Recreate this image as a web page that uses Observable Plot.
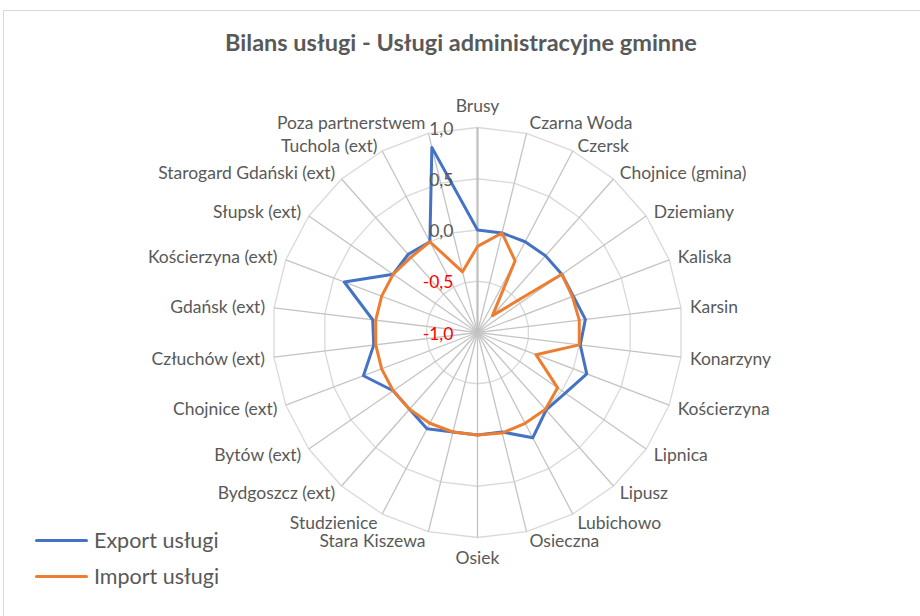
<!DOCTYPE html>
<html>
<head>
<meta charset="utf-8">
<script src="https://cdn.jsdelivr.net/npm/d3@7"></script>
<script src="https://cdn.jsdelivr.net/npm/@observablehq/plot@0.6"></script>
<style>
  html, body { margin: 0; padding: 0; background: #fff; overflow: hidden; }
  #wrap { position: relative; width: 920px; height: 616px; overflow: hidden; font-family: Lato, "Open Sans", sans-serif; color: #595959; }
  #frame { position: absolute; left: 3px; top: 10px; width: 1000px; height: 1000px; border: 1px solid #d9d9d9; box-sizing: border-box; }
  #chart { position: absolute; left: 0; top: 0; }
  #title { position: absolute; left: 0; top: 31px; width: 922px; text-align: center; font-weight: bold; font-size: 23.5px; line-height: 23.5px; white-space: nowrap; }
  .leg { position: absolute; left: 35px; display: flex; align-items: center; font-size: 21.5px; line-height: 24px; white-space: nowrap; }
  .leg .sw { width: 53px; height: 3px; border-radius: 1.5px; margin-right: 6px; }
</style>
</head>
<body>
<div id="wrap">
  <div id="frame"></div>
  <div id="chart"></div>
  <div id="title"></div>
  <div id="legend"></div>
</div>
<script>
// ---- data ----
const categories = [
  "Brusy", "Czarna Woda", "Czersk", "Chojnice (gmina)", "Dziemiany", "Kaliska",
  "Karsin", "Konarzyny", "Kościerzyna", "Lipnica", "Lipusz", "Lubichowo",
  "Osieczna", "Osiek", "Stara Kiszewa", "Studzienice", "Bydgoszcz (ext)",
  "Bytów (ext)", "Chojnice (ext)", "Człuchów (ext)", "Gdańsk (ext)",
  "Kościerzyna (ext)", "Słupsk (ext)", "Starogard Gdański (ext)",
  "Tuchola (ext)", "Poza partnerstwem"
];
const exportValues = [
  0.00, 0.00, 0.00, 0.00, 0.00, 0.00,
  0.06, 0.01, 0.14, 0.04, 0.01, 0.16,
  0.00, 0.00, 0.00, 0.06, 0.00,
  0.00, 0.19, 0.02, 0.03,
  0.39, 0.00, 0.02,
  0.00, 0.86
];
const importValues = [
  -0.16, 0.00, -0.21, -0.78, 0.00, -0.01,
  0.00, 0.00, -0.39, -0.05, 0.00, 0.00,
  0.01, 0.00, 0.00, 0.00, 0.00,
  0.00, 0.00, 0.00, 0.00,
  0.00, 0.00, -0.02,
  0.00, -0.39
];
const seriesNames = ["Export usługi", "Import usługi"];
const seriesColors = ["#4472C4", "#ED7D31"];
const tickValues = [1.0, 0.5, 0.0, -0.5, -1.0];
const tickLabels = ["1,0", "0,5", "0,0", "-0,5", "-1,0"];
const titleText = "Bilans usługi - Usługi administracyjne gminne";

// ---- layout ----
const W = 920, H = 616, cx = 477, cy = 332, Rpx = 205;
const rMin = -1, rMax = 1;
const K = Rpx / (rMax - rMin); // px per value unit
const n = categories.length;
const ang = i => i * 2 * Math.PI / n;
const px = (v, i) => (v - rMin) * Math.sin(ang(i));
const py = (v, i) => (v - rMin) * Math.cos(ang(i));

const seriesRows = (vals, name) => vals.map((v, i) => ({series: name, i, x: px(v, i), y: py(v, i)}));
const exportRows = seriesRows(exportValues, seriesNames[0]);
const importRows = seriesRows(importValues, seriesNames[1]);

const ringRows = tickValues.filter(t => t > rMin).flatMap(t =>
  categories.map((c, i) => ({ring: t, x: px(t, i), y: py(t, i)})));

const spokeRows = categories.map((c, i) => ({i, x2: px(rMax, i), y2: py(rMax, i)}));

// small vertical nudges (px) to keep the tightly packed top labels apart
const nudge = {1: -2, 2: 2, 24: 2, 25: -2};
const labelRows = categories.map((name, i) => {
  const s = Math.sin(ang(i)), c = Math.cos(ang(i));
  let side, dxp, dyp;
  if (Math.abs(s) < 0.01) { side = "middle"; dxp = 0; dyp = -21 * Math.sign(c); }
  else { side = s > 0 ? "start" : "end"; dxp = Math.sign(s) * (1 + 8 * Math.abs(s)); dyp = -9 * c + 1; }
  dyp += nudge[i] || 0;
  return {name, side, x: px(rMax, i) + dxp / K, y: py(rMax, i) - dyp / K};
});

const tickRows = tickValues.map((t, k) => ({label: tickLabels[k], v: t, y: t - rMin}));

const labelFont = 17.5;
const chart = Plot.plot({
  width: W, height: H, margin: 0,
  x: {domain: [-cx / K, (W - cx) / K], axis: null},
  y: {domain: [-(H - cy) / K, cy / K], axis: null},
  style: {background: "transparent", fontFamily: "Lato, 'Open Sans', sans-serif", overflow: "visible"},
  marks: [
    Plot.line(ringRows, {x: "x", y: "y", z: "ring", curve: "linear-closed", stroke: "#d9d9d9", strokeWidth: 1.3}),
    Plot.link(spokeRows.filter(d => d.i > 0), {x1: 0, y1: 0, x2: "x2", y2: "y2", stroke: "#c4c4c4", strokeWidth: 1.3}),
    Plot.link(spokeRows.filter(d => d.i === 0), {x1: 0, y1: 0, x2: "x2", y2: "y2", stroke: "#bfbfbf", strokeWidth: 2.2}),
    Plot.line(exportRows, {x: "x", y: "y", curve: "linear-closed", stroke: seriesColors[0], strokeWidth: 3, strokeLinejoin: "round"}),
    Plot.line(importRows, {x: "x", y: "y", curve: "linear-closed", stroke: seriesColors[1], strokeWidth: 3, strokeLinejoin: "round"}),
    Plot.text(tickRows.filter(d => d.v >= 0), {x: 0, y: "y", text: "label", textAnchor: "end", dx: -24, dy: 1.5, fill: "#595959", fontSize: labelFont}),
    Plot.text(tickRows.filter(d => d.v < 0), {x: 0, y: "y", text: "label", textAnchor: "end", dx: -24, dy: 1.5, fill: "#FF0000", fontSize: labelFont}),
    Plot.text(labelRows.filter(d => d.side === "start"), {x: "x", y: "y", text: "name", textAnchor: "start", fill: "#595959", fontSize: labelFont}),
    Plot.text(labelRows.filter(d => d.side === "end"), {x: "x", y: "y", text: "name", textAnchor: "end", fill: "#595959", fontSize: labelFont}),
    Plot.text(labelRows.filter(d => d.side === "middle"), {x: "x", y: "y", text: "name", textAnchor: "middle", fill: "#595959", fontSize: labelFont})
  ]
});
document.getElementById("chart").appendChild(chart);
document.getElementById("title").textContent = titleText;

const legendTops = [528, 564];
const legend = document.getElementById("legend");
seriesNames.forEach((name, k) => {
  const row = document.createElement("div");
  row.className = "leg";
  row.style.top = legendTops[k] + "px";
  const sw = document.createElement("div");
  sw.className = "sw";
  sw.style.background = seriesColors[k];
  const tx = document.createElement("span");
  tx.textContent = name;
  row.appendChild(sw);
  row.appendChild(tx);
  legend.appendChild(row);
});
</script>
</body>
</html>
